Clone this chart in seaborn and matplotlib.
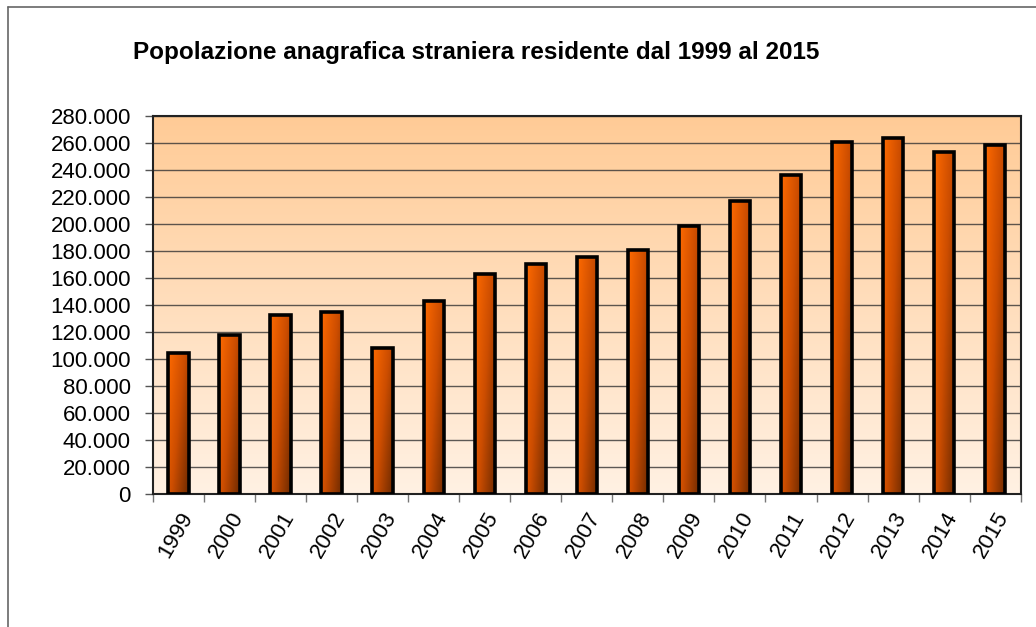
import numpy as np
import pandas as pd
import matplotlib
matplotlib.use("Agg")
import matplotlib.pyplot as plt
import seaborn as sns
from matplotlib.colors import LinearSegmentedColormap
from matplotlib.lines import Line2D
from matplotlib.ticker import FuncFormatter, FixedLocator

years = ["1999", "2000", "2001", "2002", "2003", "2004", "2005", "2006", "2007",
         "2008", "2009", "2010", "2011", "2012", "2013", "2014", "2015"]
residents = [104800, 117700, 132700, 134700, 108000, 143100, 163000, 170700, 175900,
             180800, 198800, 217100, 236300, 261000, 263700, 253100, 258500]
title = "Popolazione anagrafica straniera residente dal 1999 al 2015"

df = pd.DataFrame({"anno": years, "residenti": residents})

sns.set_style("white")
plt.rcParams["font.family"] = ["Liberation Sans", "DejaVu Sans"]
plt.rcParams["text.color"] = "black"
plt.rcParams["xtick.color"] = "black"
plt.rcParams["ytick.color"] = "black"

fig = plt.figure(figsize=(10.36, 6.27), dpi=100)
ax = fig.add_axes([0.1477, 0.2116, 0.8375, 0.6034])

sns.barplot(data=df, x="anno", y="residenti", width=0.4, color="#ff6600", ax=ax, zorder=3)

# background gradient of the plot area (light at bottom, orange at top)
bg_cmap = LinearSegmentedColormap.from_list("bg", ["#fff1e3", "#ffcb96"])
grad = np.linspace(0, 1, 256).reshape(-1, 1)
ax.imshow(grad, cmap=bg_cmap, aspect="auto", origin="lower", extent=[0, 1, 0, 1],
          transform=ax.transAxes, zorder=0)
ax.set_facecolor("none")

# bar gradient: bright orange top-left -> dark brown bottom-right
bar_cmap = LinearSegmentedColormap.from_list("bar", ["#ff6a00", "#cc4d00", "#6e2a00"])
xx, yy = np.meshgrid(np.linspace(0, 1, 64), np.linspace(0, 1, 128))
tt = 0.6 * xx + 0.4 * (1 - yy)
for p in ax.patches:
    x0, y0 = p.get_x(), p.get_y()
    w, h = p.get_width(), p.get_height()
    im = ax.imshow(tt, cmap=bar_cmap, aspect="auto", origin="lower",
                   extent=[x0, x0 + w, y0, y0 + h], zorder=3, vmin=0, vmax=1)
    im.set_clip_path(p)
    p.set_facecolor("none")
    p.set_edgecolor("black")
    p.set_linewidth(2.6)
    p.set_zorder(4)

ax.set_xlim(-0.5, len(years) - 0.5)
ax.set_ylim(0, 280000)
ax.set_yticks(np.arange(0, 280001, 20000))
ax.yaxis.set_major_formatter(FuncFormatter(lambda v, _: f"{int(v):,}".replace(",", ".")))
ax.grid(axis="y", color="#333333", linewidth=1.0, alpha=0.8, zorder=1)
ax.set_axisbelow(True)

ax.tick_params(axis="y", which="major", direction="out", length=6, width=1,
               color="#555555", labelsize=16, left=True, pad=10, labelcolor="black")
ax.tick_params(axis="x", which="major", length=0, labelsize=16, pad=10, labelcolor="black")
ax.xaxis.set_minor_locator(FixedLocator(np.arange(-0.5, len(years), 1.0)))
ax.tick_params(axis="x", which="minor", direction="out", length=6, width=1,
               color="#777777", bottom=True)
for lbl in ax.get_xticklabels():
    lbl.set_rotation(60)
    lbl.set_ha("right")
    lbl.set_rotation_mode("anchor")
ax.set_xlabel("")
ax.set_ylabel("")

for s in ax.spines.values():
    s.set_color("#222222")
    s.set_linewidth(1.5)
    s.set_visible(True)

fig.text(133 / 1036, 1 - 53 / 627, title, fontsize=17.5, fontweight="bold",
         ha="left", va="center", color="black")

# outer chart frame (top and left edges visible)
fig.add_artist(Line2D([8 / 1036, 1], [1 - 7 / 627, 1 - 7 / 627], color="#666666", lw=1.2))
fig.add_artist(Line2D([8 / 1036, 8 / 1036], [0, 1 - 7 / 627], color="#666666", lw=1.2))

fig.savefig("out.png", dpi=100)
